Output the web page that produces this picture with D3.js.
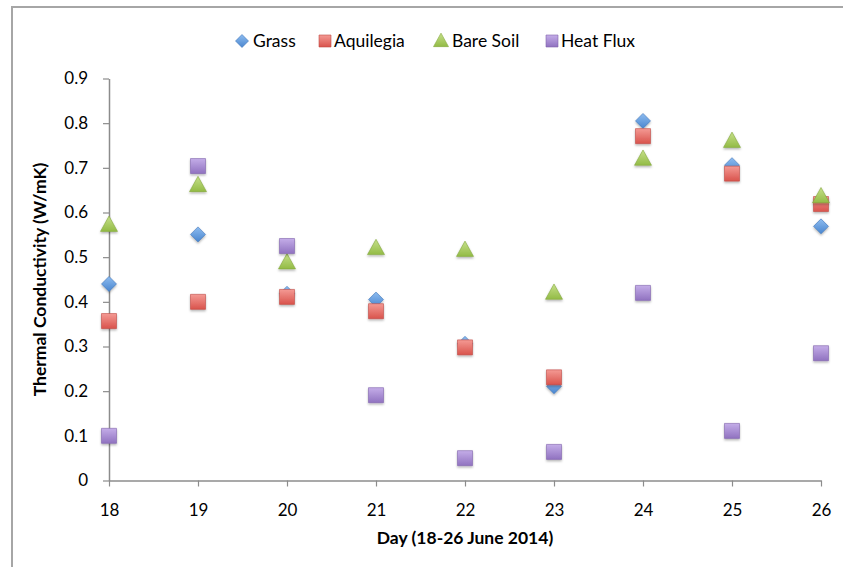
<!DOCTYPE html>
<html>
<head>
<meta charset="utf-8">
<script src="https://cdn.jsdelivr.net/npm/d3@7"></script>
<style>
  html, body { margin: 0; padding: 0; background: #fff; }
  svg { display: block; font-family: Lato, "Open Sans", "Liberation Sans", sans-serif; }
</style>
</head>
<body>
<svg id="chart" width="843" height="567"></svg>
<script>
// Measurement days (June 2014)
const days = [18, 19, 20, 21, 22, 23, 24, 25, 26];

// Thermal conductivity (W/mK) per site and day
const grass     = [0.44, 0.551, 0.418, 0.405, 0.306, 0.211, 0.805, 0.706, 0.569];
const aquilegia = [0.357, 0.40, 0.411, 0.379, 0.298, 0.231, 0.771, 0.687, 0.619];
const bareSoil  = [0.572, 0.661, 0.488, 0.52, 0.516, 0.42, 0.72, 0.76, 0.636];
const heatFlux  = [0.10, 0.704, 0.525, 0.191, 0.05, 0.064, 0.42, 0.111, 0.285];

const yTicks = [0, 0.1, 0.2, 0.3, 0.4, 0.5, 0.6, 0.7, 0.8, 0.9];

const series = [
  { name: "Grass",     values: grass,     shape: "diamond",  light: "#8dbcf0", dark: "#4a86cf", stroke: "#3d74b8" },
  { name: "Aquilegia", values: aquilegia, shape: "square",   light: "#f49a94", dark: "#d9534c", stroke: "#c04a44" },
  { name: "Bare Soil", values: bareSoil,  shape: "triangle", light: "#c6e08a", dark: "#93bb45", stroke: "#83a83c" },
  { name: "Heat Flux", values: heatFlux,  shape: "square",   light: "#c4ade8", dark: "#9072c0", stroke: "#7f63ad" }
];

const svg = d3.select("#chart");
const margin = { left: 109, right: 22, top: 78.5, bottom: 86.5 };
const W = 843, H = 567;

// outer frame (left and top edges visible)
svg.append("path")
  .attr("d", `M12,567 L12,7 L843,7`)
  .attr("fill", "none").attr("stroke", "#a6a6a6").attr("stroke-width", 2);

const x = d3.scaleLinear().domain([18, 26]).range([margin.left, W - margin.right]);
const y = d3.scaleLinear().domain([0, 0.9]).range([H - margin.bottom, margin.top]);

// gradients and shadow
const defs = svg.append("defs");
series.forEach((s, i) => {
  const g = defs.append("linearGradient").attr("id", "grad" + i)
    .attr("x1", 0).attr("y1", 0).attr("x2", 0).attr("y2", 1);
  g.append("stop").attr("offset", "0%").attr("stop-color", s.light);
  g.append("stop").attr("offset", "100%").attr("stop-color", s.dark);
});
const f = defs.append("filter").attr("id", "shadow")
  .attr("x", "-50%").attr("y", "-50%").attr("width", "200%").attr("height", "200%");
f.append("feDropShadow").attr("dx", 0).attr("dy", 1.5).attr("stdDeviation", 1.2)
  .attr("flood-color", "#000").attr("flood-opacity", 0.3);

// axes
const axisColor = "#8c8c8c";
const yAxis = svg.append("g")
  .attr("transform", `translate(${margin.left},0)`)
  .call(d3.axisLeft(y).tickValues(yTicks).tickSize(6).tickSizeOuter(0)
    .tickFormat(d => d === 0 ? "0" : d3.format(".1f")(d)));
const xAxis = svg.append("g")
  .attr("transform", `translate(0,${H - margin.bottom})`)
  .call(d3.axisBottom(x).tickValues(days).tickSize(6).tickSizeOuter(0).tickFormat(d3.format("d")));

[xAxis, yAxis].forEach(a => {
  a.select(".domain").attr("stroke", axisColor).attr("stroke-width", 1.5);
  a.selectAll(".tick line").attr("stroke", axisColor).attr("stroke-width", 1.2);
  a.selectAll(".tick text").attr("fill", "#000").style("font-size", "17px")
    .style("font-family", "Lato, 'Open Sans', sans-serif");
});
yAxis.selectAll(".tick text").attr("x", -21);
xAxis.selectAll(".tick text").attr("y", 23);

// axis titles
svg.append("text")
  .attr("x", (margin.left + W - margin.right) / 2).attr("y", 544)
  .attr("text-anchor", "middle").style("font-size", "17.5px").style("font-weight", "bold")
  .text("Day (18-26 June 2014)");
svg.append("text")
  .attr("transform", `translate(46,${(margin.top + H - margin.bottom) / 2}) rotate(-90)`)
  .attr("text-anchor", "middle").style("font-size", "17.5px").style("font-weight", "bold")
  .text("Thermal Conductivity (W/mK)");

// marker shapes
function shapePath(shape, size) {
  const h = size / 2;
  if (shape === "square") return `M${-h},${-h}H${h}V${h}H${-h}Z`;
  if (shape === "diamond") return `M0,${-h}L${h},0L0,${h}L${-h},0Z`;
  if (shape === "triangle") return `M0,${-h * 1.05}L${h},${h * 0.75}L${-h},${h * 0.75}Z`;
}
const sizes = { square: 15, diamond: 15, triangle: 17 };

series.forEach((s, i) => {
  svg.append("g").selectAll("path")
    .data(s.values.map((v, j) => ({ day: days[j], v })))
    .join("path")
    .attr("transform", d => `translate(${x(d.day)},${y(d.v)})`)
    .attr("d", shapePath(s.shape, sizes[s.shape]))
    .attr("fill", `url(#grad${i})`)
    .attr("stroke", s.stroke).attr("stroke-width", 0.6)
    .attr("filter", "url(#shadow)");
});

// legend
const legendItems = [
  { cx: 242, tx: 253 },
  { cx: 325, tx: 334 },
  { cx: 441, tx: 452 },
  { cx: 552, tx: 561 }
];
const legend = svg.append("g");
series.forEach((s, i) => {
  const it = legendItems[i];
  const ls = s.shape === "square" ? 12 : (s.shape === "triangle" ? 15 : 13);
  legend.append("path")
    .attr("transform", `translate(${it.cx},41)`)
    .attr("d", shapePath(s.shape, ls))
    .attr("fill", `url(#grad${i})`)
    .attr("stroke", s.stroke).attr("stroke-width", 0.6);
  legend.append("text")
    .attr("x", it.tx).attr("y", 47)
    .style("font-size", "17.5px")
    .text(s.name);
});
</script>
</body>
</html>
